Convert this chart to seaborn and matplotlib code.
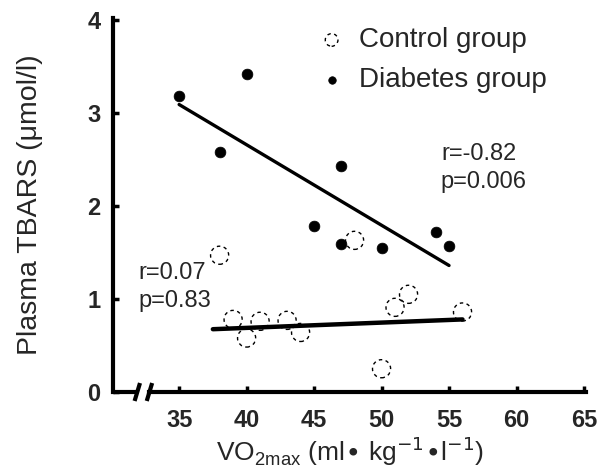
import numpy as np
import pandas as pd
import matplotlib
matplotlib.use("Agg")
import matplotlib.pyplot as plt
import seaborn as sns

# --- data ---
control_x = [38, 48, 52, 51, 56, 50, 39, 41, 40, 43, 44]
control_y = [1.47, 1.63, 1.05, 0.91, 0.86, 0.25, 0.78, 0.76, 0.58, 0.77, 0.64]

diabetes_x = [35, 40, 38, 47, 45, 47, 50, 54, 55]
diabetes_y = [3.18, 3.42, 2.58, 2.43, 1.78, 1.59, 1.55, 1.72, 1.57]

# regression lines as drawn in the figure (end points)
control_fit_x = [37.5, 56.0]
control_fit_y = [0.675, 0.78]
diabetes_fit_x = [35.0, 55.0]
diabetes_fit_y = [3.09, 1.36]

x_ticks = [35, 40, 45, 50, 55, 60, 65]
y_ticks = [0, 1, 2, 3, 4]
axis_break = [31.9, 32.8]

df_control = pd.DataFrame({"x": control_x, "y": control_y})
df_diabetes = pd.DataFrame({"x": diabetes_x, "y": diabetes_y})

sns.set_style("ticks")
plt.rcParams["font.family"] = ["Liberation Sans", "DejaVu Sans"]

fig = plt.figure(figsize=(6.09, 4.74), dpi=100)
ax = fig.add_axes([113 / 609, 82 / 474, 473 / 609, 374 / 474])

# fit lines
ax.plot(diabetes_fit_x, diabetes_fit_y, color="black", lw=2.4, zorder=2)
ax.plot(control_fit_x, control_fit_y, color="black", lw=3.2, zorder=2)

# points
sns.scatterplot(data=df_control, x="x", y="y", ax=ax, s=170, facecolor="none",
                edgecolor="black", linewidth=1.0, linestyle=(0, (2.5, 2.5)),
                label="Control group", zorder=3)
sns.scatterplot(data=df_diabetes, x="x", y="y", ax=ax, s=60, color="black",
                edgecolor="black", linewidth=0.5, label="Diabetes group", zorder=3)

ax.set_xlim(30.1, 65.15)
ax.set_ylim(0, 4.02)
ax.set_xticks(x_ticks)
ax.set_yticks(y_ticks)
ax.tick_params(axis="both", direction="in", length=4, width=2.5, labelsize=17,
               color="black")
ax.tick_params(axis="x", pad=12)
ax.tick_params(axis="y", pad=9)
for lbl in ax.get_xticklabels() + ax.get_yticklabels():
    lbl.set_fontweight("bold")

for side in ["top", "right"]:
    ax.spines[side].set_visible(False)
for side in ["left", "bottom"]:
    ax.spines[side].set_linewidth(3)
    ax.spines[side].set_color("black")

# broken x axis
ax.spines["bottom"].set_bounds(axis_break[1], 65.15)
trans = ax.get_xaxis_transform()
ax.plot([30.1, axis_break[0]], [0, 0], color="black", lw=3, transform=trans,
        clip_on=False, solid_capstyle="butt")
for xb in axis_break:
    ax.plot([xb - 0.2, xb + 0.2], [-0.024, 0.024], color="black", lw=3,
            transform=trans, clip_on=False, solid_capstyle="butt")

ax.set_xlabel(r"VO$_{\mathregular{2max}}$ (ml$\bullet$ kg$^{-1}$$\bullet$l$^{-1}$)",
              fontsize=19, labelpad=2)
ax.set_ylabel("Plasma TBARS (\u03bcmol/l)", fontsize=20.5, labelpad=32)

ax.text(54.4, 2.68, "r=-0.82\np=0.006", ha="left", va="top", fontsize=17,
        linespacing=1.35)
ax.text(31.96, 1.40, "r=0.07\np=0.83", ha="left", va="top", fontsize=17,
        linespacing=1.35)

leg = ax.legend(loc="upper left", bbox_to_anchor=(0.38, 1.005), frameon=False,
                fontsize=20, handletextpad=0.0, markerscale=0.7,
                labelspacing=0.5, borderaxespad=0)

fig.savefig("out.png", dpi=100)
